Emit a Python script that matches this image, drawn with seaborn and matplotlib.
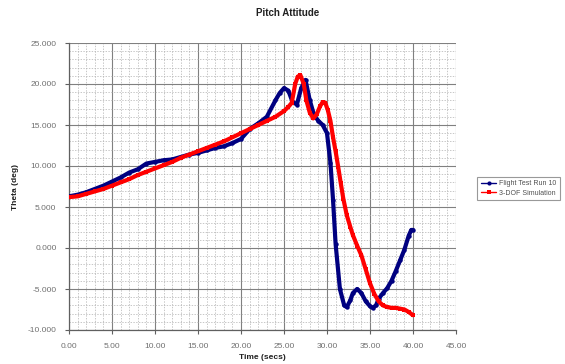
import numpy as np
import pandas as pd
import matplotlib
matplotlib.use("Agg")
import matplotlib.pyplot as plt
from matplotlib.ticker import MultipleLocator, FormatStrFormatter
import seaborn as sns

# Flight test run 10: time (s) and pitch angle theta (deg)
flight_time = [0, 1, 2, 3, 4, 5, 6, 7, 8, 9, 10, 11, 12, 13, 14, 15, 16, 17, 18, 19,
               20, 21, 22, 23, 24, 24.5, 25, 25.5, 26, 26.5, 27, 27.5, 28, 28.5, 29,
               29.5, 30, 30.4, 30.7, 31, 31.5, 32, 32.3, 32.7, 33, 33.5, 34, 34.5, 35,
               35.3, 35.7, 36, 36.5, 37, 37.5, 38, 38.5, 39, 39.5, 39.8, 40]
flight_theta = [6.3, 6.5, 6.8, 7.2, 7.6, 8.1, 8.6, 9.2, 9.6, 10.3, 10.5, 10.7, 10.8, 11.1,
                11.4, 11.6, 11.9, 12.2, 12.4, 12.8, 13.3, 14.5, 15.2, 16.0, 18.0, 18.9,
                19.5, 19.2, 17.8, 17.5, 19.5, 20.5, 18.0, 16.2, 15.5, 15.0, 14.0, 10.4,
                5.9, 0.5, -5.0, -7.0, -7.2, -6.4, -5.5, -5.0, -5.5, -6.5, -7.1, -7.3,
                -7.0, -6.2, -5.5, -4.9, -4.0, -2.8, -1.5, -0.2, 1.5, 2.2, 2.2]

# 3-DOF simulation: time (s) and pitch angle theta (deg)
sim_time = [0, 1, 2, 3, 4, 5, 6, 7, 8, 9, 10, 11, 12, 13, 14, 15, 16, 17, 18, 19, 20,
            21, 22, 23, 24, 25, 25.5, 25.9, 26.3, 26.6, 26.9, 27.3, 27.6, 28, 28.4,
            28.8, 29.2, 29.5, 29.8, 30.1, 30.4, 30.7, 31.0, 31.3, 31.6, 31.9, 32.3,
            32.7, 33.0, 33.5, 34.0, 34.5, 35.0, 35.5, 36.0, 36.5, 37.0, 37.5, 38.0,
            38.5, 39.0, 39.5, 40.0]
sim_theta = [6.2, 6.3, 6.6, 6.9, 7.2, 7.6, 8.0, 8.4, 8.9, 9.3, 9.7, 10.1, 10.5, 11.0,
             11.4, 11.8, 12.2, 12.6, 13.0, 13.5, 14.0, 14.5, 15.0, 15.5, 16.0, 16.7,
             17.2, 17.7, 20.0, 20.9, 21.1, 20.0, 18.0, 16.5, 15.8, 16.3, 17.3, 17.8,
             17.7, 16.8, 15.5, 13.5, 11.8, 9.9, 7.9, 6.0, 4.0, 2.6, 1.6, 0.3, -0.9,
             -2.6, -4.3, -5.6, -6.5, -7.0, -7.2, -7.3, -7.3, -7.4, -7.5, -7.8, -8.2]

flight = pd.DataFrame({"t": flight_time, "theta": flight_theta})
sim = pd.DataFrame({"t": sim_time, "theta": sim_theta})

sns.set_theme(style="white")
plt.rcParams["font.family"] = ["Liberation Sans", "DejaVu Sans"]

fig = plt.figure(figsize=(5.65, 3.64), dpi=100)
ax = fig.add_axes([69 / 565, 34 / 364, 387 / 565, 287 / 364])

sns.lineplot(data=flight, x="t", y="theta", ax=ax, color="#000080", linewidth=3.0,
             marker="o", markersize=3.2, markeredgewidth=0, sort=False, estimator=None,
             label="Flight Test Run 10", zorder=3)
sns.lineplot(data=sim, x="t", y="theta", ax=ax, color="#FF0000", linewidth=3.0,
             marker="s", markersize=3.2, markeredgewidth=0, sort=False, estimator=None,
             label="3-DOF Simulation", zorder=4)

ax.set_xlim(0, 45)
ax.set_ylim(-10, 25)
ax.xaxis.set_major_locator(MultipleLocator(5))
ax.xaxis.set_minor_locator(MultipleLocator(1))
ax.yaxis.set_major_locator(MultipleLocator(5))
ax.yaxis.set_minor_locator(MultipleLocator(1))
ax.xaxis.set_major_formatter(FormatStrFormatter("%.2f"))
ax.yaxis.set_major_formatter(FormatStrFormatter("%.3f"))

ax.grid(which="major", color="#808080", linewidth=0.8, linestyle="-")
ax.grid(which="minor", color="#b0b0b0", linewidth=0.5, linestyle=(0, (2, 2)))
ax.set_axisbelow(True)

for side in ("top", "right"):
    ax.spines[side].set_visible(False)
for side in ("left", "bottom"):
    ax.spines[side].set_color("#606060")
    ax.spines[side].set_linewidth(0.9)

ax.tick_params(axis="both", which="major", labelsize=6, labelcolor="#707070",
               length=3, width=0.8, color="#606060", direction="out",
               bottom=True, left=True, pad=6)
ax.tick_params(axis="both", which="minor", length=0)

ax.set_xlabel("Time (secs)", fontsize=6, fontweight="bold", color="#202020", labelpad=3)
ax.set_ylabel("Theta (deg)", fontsize=6, fontweight="bold", color="#202020", labelpad=6)

fig.text(288 / 565, 1 - 13 / 364, "Pitch Attitude", ha="center", va="center",
         fontsize=7, fontweight="bold", color="#202020")

leg = ax.legend(loc="center left", bbox_to_anchor=(474 / 565, 1 - 188.5 / 364),
                bbox_transform=fig.transFigure, fontsize=5, frameon=True,
                fancybox=False, edgecolor="#808080", borderpad=0.5,
                handlelength=2.2, handletextpad=0.4, labelspacing=0.4)
leg.get_frame().set_linewidth(0.8)
for txt in leg.get_texts():
    txt.set_color("#505050")
for line in leg.get_lines():
    line.set_linewidth(1.0)
    line.set_markersize(3)

fig.savefig("out.png", dpi=100, facecolor="white")
